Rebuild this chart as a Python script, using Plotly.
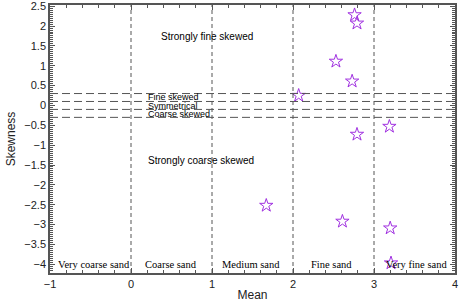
import plotly.graph_objects as go

mean = [2.76, 2.79, 2.53, 2.73, 2.07, 3.19, 2.79, 1.67, 2.61, 3.20, 3.21]
skew = [2.28, 2.07, 1.11, 0.61, 0.25, -0.53, -0.73, -2.52, -2.92, -3.09, -3.97]

x_bounds = [0, 1, 2, 3]
y_bounds = [0.3, 0.1, -0.1, -0.3]

sand_labels = ["Very coarse sand", "Coarse sand", "Medium sand", "Fine sand", "Very fine sand"]
sand_x = [-0.46, 0.49, 1.48, 2.48, 3.53]
sand_y = -4.0

skew_labels = ["Strongly fine skewed", "Fine skewed", "Symmetrical", "Coarse skewed", "Strongly coarse skewed"]
skew_label_y = [1.74, 0.21, -0.02, -0.22, -1.39]
skew_label_x = [0.34, 0.19, 0.19, 0.19, 0.19]

fig = go.Figure()
fig.add_trace(go.Scatter(
    x=mean, y=skew, mode="markers",
    marker=dict(symbol="star-open", size=10, color="#A030E0", line=dict(width=1, color="#A030E0")),
    showlegend=False, cliponaxis=False))

for xb in x_bounds:
    fig.add_shape(type="line", xref="x", yref="paper", x0=xb, x1=xb, y0=0, y1=1,
                  line=dict(color="#555555", width=1, dash="4px,3px"))
for yb in y_bounds:
    fig.add_shape(type="line", xref="paper", yref="y", x0=0, x1=1, y0=yb, y1=yb,
                  line=dict(color="#555555", width=1, dash="8px,4px"))

for t, xx in zip(sand_labels, sand_x):
    fig.add_annotation(x=xx, y=sand_y, text=t, showarrow=False,
                       font=dict(family="Liberation Serif, Times New Roman, serif", size=10.5, color="black"))
for i, (t, xx, yy) in enumerate(zip(skew_labels, skew_label_x, skew_label_y)):
    fig.add_annotation(x=xx, y=yy, text=t, showarrow=False, xanchor="left",
                       font=dict(family="Liberation Sans, Arial, sans-serif",
                                 size=10 if i in (0, 4) else 9, color="black"))

axis_common = dict(showgrid=False, zeroline=False, showline=True, linecolor="#555555", linewidth=1.5,
                   mirror="ticks", ticks="inside", tickcolor="#555555", ticklen=5, tickwidth=1,
                   automargin=False,
                   tickfont=dict(family="Liberation Sans, Arial, sans-serif", size=11, color="#222222"))

fig.update_xaxes(range=[-1, 4], dtick=1, title=dict(text="Mean", standoff=2,
                 font=dict(family="Liberation Sans, Arial, sans-serif", size=12, color="#222222")),
                 minor=dict(dtick=0.2, ticks="inside", ticklen=3, tickcolor="#555555"), **axis_common)
fig.update_yaxes(range=[-4.22, 2.53], dtick=0.5, title=dict(text="Skewness", standoff=6,
                 font=dict(family="Liberation Sans, Arial, sans-serif", size=12, color="#222222")),
                 minor=dict(dtick=0.05, ticks="inside", ticklen=3, tickcolor="#555555"), **axis_common)

fig.update_layout(width=462, height=307, margin=dict(l=50, r=7, t=5, b=34),
                  plot_bgcolor="white", paper_bgcolor="white")
fig.write_html("out.html", config={"displayModeBar": False},
               post_script="document.body.style.margin='0';document.body.style.overflow='hidden';")
